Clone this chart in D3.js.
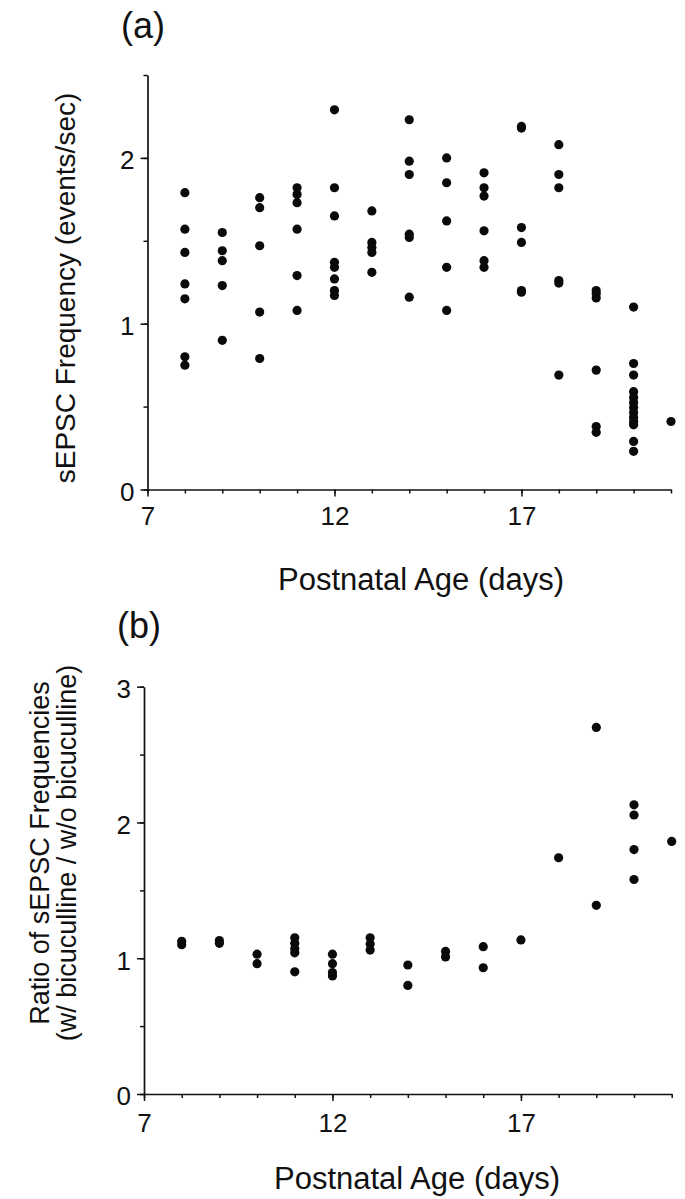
<!DOCTYPE html>
<html>
<head>
<meta charset="utf-8">
<script src="https://cdn.jsdelivr.net/npm/d3@7"></script>
<style>
  html, body { margin: 0; padding: 0; background: #fff; }
  svg { display: block; }
  text { font-family: "Liberation Sans", Arial, Helvetica, sans-serif; fill: #111; }
</style>
</head>
<body>
<svg id="chart" width="685" height="1199"></svg>
<script>
// ---------- DATA ----------
// Panel (a): sEPSC frequency (events/sec) by postnatal day
const daysA = [8, 9, 10, 11, 12, 13, 14, 15, 16, 17, 18, 19, 20, 21];
const freqA = [
  [1.79, 1.57, 1.43, 1.24, 1.15, 0.80, 0.75],
  [1.55, 1.44, 1.38, 1.23, 0.90],
  [1.76, 1.70, 1.47, 1.07, 0.79],
  [1.82, 1.78, 1.73, 1.57, 1.29, 1.08],
  [2.29, 1.82, 1.65, 1.37, 1.34, 1.27, 1.20, 1.17],
  [1.68, 1.49, 1.46, 1.43, 1.31],
  [2.23, 1.98, 1.90, 1.54, 1.52, 1.16],
  [2.00, 1.85, 1.62, 1.34, 1.08],
  [1.91, 1.82, 1.77, 1.56, 1.38, 1.34],
  [2.19, 2.18, 1.58, 1.49, 1.20, 1.19],
  [2.08, 1.90, 1.82, 1.26, 1.245, 0.69],
  [1.20, 1.18, 1.155, 0.72, 0.38, 0.345],
  [1.10, 0.76, 0.69, 0.59, 0.555, 0.525, 0.495, 0.465, 0.435, 0.41, 0.39, 0.29, 0.23],
  [0.41]
];
// Panel (b): ratio of sEPSC frequencies (w/ bicuculline / w/o bicuculline)
const daysB = [8, 9, 10, 11, 12, 13, 14, 15, 16, 17, 18, 19, 20, 21];
const ratioB = [
  [1.125, 1.10],
  [1.13, 1.11],
  [1.03, 0.96],
  [1.15, 1.11, 1.07, 1.04, 0.90],
  [1.03, 0.96, 0.895, 0.87],
  [1.15, 1.105, 1.06],
  [0.95, 0.80],
  [1.05, 1.01],
  [1.085, 0.93],
  [1.135],
  [1.74],
  [2.70, 1.39],
  [2.13, 2.055, 1.80, 1.58],
  [1.86]
];
const xTickLabels = [7, 12, 17];
const yTickLabelsA = [0, 1, 2];
const yTickLabelsB = [0, 1, 2, 3];
const panelLabels = ["(a)", "(b)"];
const xTitle = "Postnatal Age (days)";
const yTitleA = ["sEPSC Frequency (events/sec)"];
const yTitleB = ["Ratio of sEPSC Frequencies", "(w/ bicuculline / w/o bicuculline)"];

// ---------- DRAW ----------
const svg = d3.select("#chart");
svg.append("rect").attr("width", 685).attr("height", 1199).attr("fill", "#fff");

function flatten(days, vals) {
  const out = [];
  days.forEach((d, i) => vals[i].forEach(v => out.push({ day: d, v })));
  return out;
}

function panel(cfg) {
  const g = svg.append("g");
  const x = d3.scaleLinear().domain([7, 21]).range(cfg.xRange);
  const y = d3.scaleLinear().domain([0, cfg.yMax]).range(cfg.yRange);
  const y0 = cfg.yRange[0];
  const x0 = cfg.xRange[0];

  // x axis: minor ticks every day
  g.append("g").attr("transform", `translate(0,${y0})`)
    .call(d3.axisBottom(x).tickValues(d3.range(7, 22)).tickSize(4).tickSizeOuter(0).tickFormat(""));
  // x axis: major ticks with labels
  const xMajor = g.append("g").attr("transform", `translate(0,${y0})`)
    .call(d3.axisBottom(x).tickValues(xTickLabels).tickSize(7).tickSizeOuter(0).tickPadding(cfg.xPad).tickFormat(d3.format("d")));
  xMajor.select(".domain").remove();

  // y axis minor
  g.append("g").attr("transform", `translate(${x0},0)`)
    .call(d3.axisLeft(y).tickValues(d3.range(0, cfg.yMax + 0.001, 0.5)).tickSize(4).tickSizeOuter(0).tickFormat(""));
  const yMajor = g.append("g").attr("transform", `translate(${x0},0)`)
    .call(d3.axisLeft(y).tickValues(cfg.yTicks).tickSize(7).tickSizeOuter(0).tickPadding(6).tickFormat(d3.format("d")));
  yMajor.select(".domain").remove();

  g.selectAll(".domain").attr("stroke", "#111").attr("stroke-width", 1.7);
  g.selectAll(".tick line").attr("stroke", "#111").attr("stroke-width", 1.5);
  g.selectAll(".tick text").attr("font-size", 26).attr("fill", "#111")
    .style("font-family", '"Liberation Sans", Arial, Helvetica, sans-serif');
  yMajor.selectAll(".tick text").attr("dy", "0.42em");

  // points
  g.append("g").selectAll("circle")
    .data(flatten(cfg.days, cfg.vals))
    .join("circle")
    .attr("cx", d => x(d.day))
    .attr("cy", d => y(d.v))
    .attr("r", 4.6)
    .attr("fill", "#0a0a0a");

  // panel label
  g.append("text").attr("x", cfg.labelX).attr("y", cfg.labelY)
    .attr("font-size", 36).text(cfg.label);

  // x title
  g.append("text").attr("x", cfg.xTitleX).attr("y", cfg.xTitleY)
    .attr("text-anchor", "middle").attr("font-size", 31).text(xTitle);

  // y title
  const yt = g.append("text").attr("transform", `translate(0,${cfg.yTitleY}) rotate(-90)`)
    .attr("text-anchor", "middle").attr("font-size", cfg.yTitleSize);
  cfg.yTitle.forEach((t, i) => {
    yt.append("tspan").attr("x", 0).attr("y", cfg.yTitleX[i]).text(t);
  });
}

panel({
  days: daysA, vals: freqA, yMax: 2.5, yTicks: yTickLabelsA,
  xRange: [147.5, 671], yRange: [489.5, 75], xPad: 10,
  label: panelLabels[0], labelX: 121, labelY: 38,
  xTitleX: 421, xTitleY: 590,
  yTitle: yTitleA, yTitleX: [75], yTitleY: 288, yTitleSize: 28
});

panel({
  days: daysB, vals: ratioB, yMax: 3, yTicks: yTickLabelsB,
  xRange: [144, 671.7], yRange: [1094, 686.7], xPad: 13,
  label: panelLabels[1], labelX: 117, labelY: 638,
  xTitleX: 417, xTitleY: 1189,
  yTitle: yTitleB, yTitleX: [49, 76], yTitleY: 853, yTitleSize: 27
});
</script>
</body>
</html>
